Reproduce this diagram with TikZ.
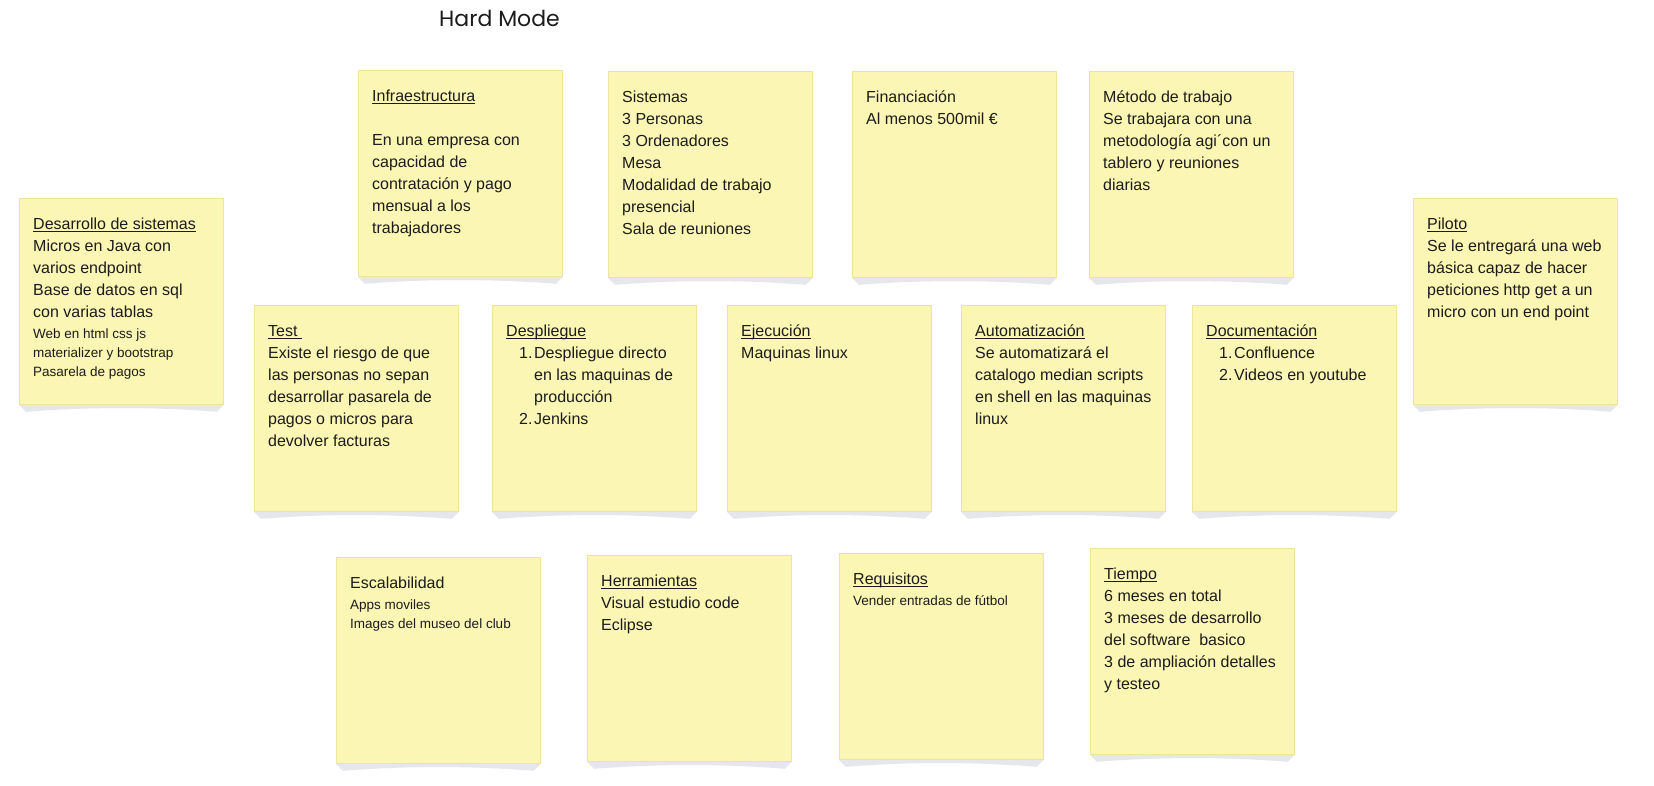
\documentclass[tikz,border=0pt]{standalone}
\usepackage{fontspec}
\setmainfont{Liberation Sans}
\newfontfamily\titlefont{Poppins}
\usetikzlibrary{calc}
\pgfdeclarelayer{bg}
\pgfdeclarelayer{paper}
\pgfsetlayers{paper,bg,main}
\definecolor{notefill}{HTML}{FCF6B4}
\definecolor{noteline}{HTML}{EFE49D}
\definecolor{shadowc}{HTML}{E6E7EA}
\definecolor{ink}{HTML}{1C1C1C}
\newcommand\hdr[1]{{\setbox0=\hbox{#1}\rlap{\rule[-2.6pt]{\wd0}{1pt}}\box0}}
\newcommand\smf{\fontsize{13.5}{19}\selectfont}
\newcommand\itm[1]{\hspace*{13pt}\makebox[15pt][l]{#1.}}
\newcommand\cnt{\hspace*{28pt}}
\newcommand\shadowof[1]{\begin{pgfonlayer}{bg}\fill[shadowc] (#1.south west) -- ($(#1.south west)+(7,7)$) .. controls ($(#1.south west)+(70,2)$) and ($(#1.south east)+(-70,2)$) .. ($(#1.south east)+(-7,7)$) -- (#1.south east) -- cycle;\end{pgfonlayer}}
\tikzset{
  note/.style={draw=noteline, fill=notefill, line width=0.8pt, minimum width=204pt, minimum height=206pt, anchor=north west, inner sep=0pt},
  txt/.style={anchor=north west, inner sep=0pt, text width=190pt, align=left, font=\fontsize{16}{22}\selectfont, text=ink, execute at begin node={\spaceskip=0pt\xspaceskip=0pt\relax}},
  ttl/.style={font=\titlefont\fontsize{22}{27}\selectfont, text=ink, inner sep=0pt}
}
\begin{document}
\begin{tikzpicture}[x=1pt,y=-1pt]
\begin{pgfonlayer}{paper}
\fill[white] (0,0) rectangle (1654,785);
\end{pgfonlayer}
\useasboundingbox (0,0) rectangle (1654,785);
\node[ttl] (title) at (499.5,18.5) {Hard Mode};
% notes
\node[note] (infra) at (358,70) {};
\node[note] (sist) at (608,71) {};
\node[note] (fin) at (852,71) {};
\node[note] (met) at (1089,71) {};
\node[note] (des) at (19,198) {};
\node[note] (test) at (254,305) {};
\node[note] (despl) at (492,305) {};
\node[note] (ejec) at (727,305) {};
\node[note] (auto) at (961,305) {};
\node[note] (doc) at (1192,305) {};
\node[note] (pil) at (1413,198) {};
\node[note] (esc) at (336,557) {};
\node[note] (herr) at (587,555) {};
\node[note] (req) at (839,553) {};
\node[note] (tiem) at (1090,548) {};
\foreach \n in {infra,sist,fin,met,des,test,despl,ejec,auto,doc,pil,esc,herr,req,tiem}{\shadowof{\n}}
% texts
\node[txt] (infraT) at ([xshift=14pt,yshift=-15.6pt]infra.north west) {\strut\hdr{Infraestructura}\\ \mbox{}\\ En una empresa con\\ capacidad de\\ contratación y pago\\ mensual a los\\ trabajadores};
\node[txt] (sistT) at ([xshift=14pt,yshift=-15.6pt]sist.north west) {\strut Sistemas\\ 3 Personas\\ 3 Ordenadores\\ Mesa\\ Modalidad de trabajo\\ presencial\\ Sala de reuniones};
\node[txt] (finT) at ([xshift=14pt,yshift=-15.6pt]fin.north west) {\strut Financiación\\ Al menos 500mil €};
\node[txt] (metT) at ([xshift=14pt,yshift=-15.6pt]met.north west) {\strut Método de trabajo\\ Se trabajara con una\\ metodología agi´con un\\ tablero y reuniones\\ diarias};
\node[txt] (desT) at ([xshift=14pt,yshift=-15.6pt]des.north west) {\strut\hdr{Desarrollo de sistemas}\\ Micros en Java con\\ varios endpoint\\ Base de datos en sql\\ con varias tablas\par\vspace{2pt}{\smf Web en html css js\\ materializer y bootstrap\\ Pasarela de pagos\par}};
\node[txt] (testT) at ([xshift=14pt,yshift=-15.6pt]test.north west) {\strut\hdr{Test\ }\\ Existe el riesgo de que\\ las personas no sepan\\ desarrollar pasarela de\\ pagos o micros para\\ devolver facturas};
\node[txt] (desplT) at ([xshift=14pt,yshift=-15.6pt]despl.north west) {\strut\hdr{Despliegue}\\ \itm{1}Despliegue directo\\ \cnt en las maquinas de\\ \cnt producción\\ \itm{2}Jenkins};
\node[txt] (ejecT) at ([xshift=14pt,yshift=-15.6pt]ejec.north west) {\strut\hdr{Ejecución}\\ Maquinas linux};
\node[txt] (autoT) at ([xshift=14pt,yshift=-15.6pt]auto.north west) {\strut\hdr{Automatización}\\ Se automatizará el\\ catalogo median scripts\\ en shell en las maquinas\\ linux};
\node[txt] (docT) at ([xshift=14pt,yshift=-15.6pt]doc.north west) {\strut\hdr{Documentación}\\ \itm{1}Confluence\\ \itm{2}Videos en youtube};
\node[txt] (pilT) at ([xshift=14pt,yshift=-15.6pt]pil.north west) {\strut\hdr{Piloto}\\ Se le entregará una web\\ básica capaz de hacer\\ peticiones http get a un\\ micro con un end point};
\node[txt] (escT) at ([xshift=14pt,yshift=-15.6pt]esc.north west) {\strut Escalabilidad\par\vspace{2pt}{\smf Apps moviles\\ Images del museo del club\par}};
\node[txt] (herrT) at ([xshift=14pt,yshift=-15.6pt]herr.north west) {\strut\hdr{Herramientas}\\ Visual estudio code\\ Eclipse};
\node[txt] (reqT) at ([xshift=14pt,yshift=-15.6pt]req.north west) {\strut\hdr{Requisitos}\par\vspace{2pt}{\smf Vender entradas de fútbol\par}};
\node[txt] (tiemT) at ([xshift=14pt,yshift=-15.6pt]tiem.north west) {\strut\hdr{Tiempo}\\ 6 meses en total\\ 3 meses de desarrollo\\ del software~ basico\\ 3 de ampliación detalles\\ y testeo};
\end{tikzpicture}
\end{document}
